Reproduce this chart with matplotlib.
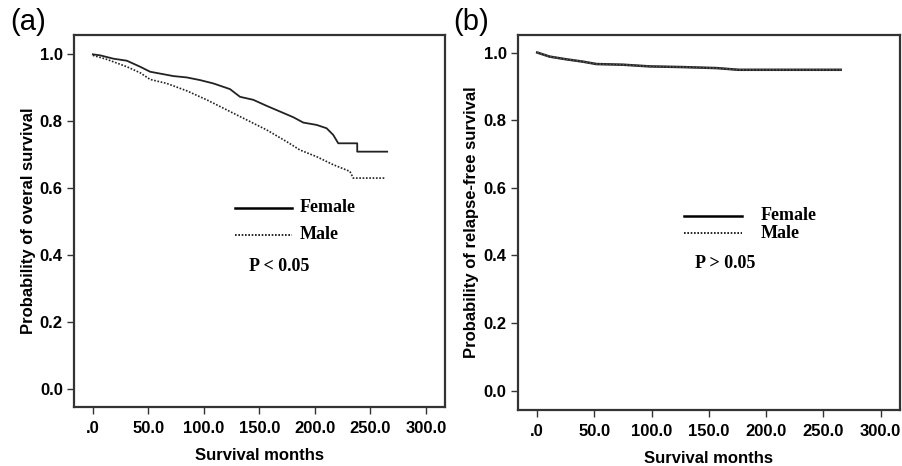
import matplotlib
matplotlib.use("Agg")
from matplotlib import pyplot as plt

# panel (a): overall survival
os_female_months = [0, 6.6, 18.6, 30.6, 42.6, 51.6, 72.6, 84.6, 96.6, 108.6, 123.6, 132.6,
                    144.6, 156.6, 168.6, 180.6, 189.6, 201.6, 210.6, 216.6, 221.1, 238.2, 238.2, 265.2]
os_female_prob = [1.0, 0.997, 0.987, 0.981, 0.963, 0.948, 0.935, 0.931, 0.923, 0.913, 0.896, 0.873,
                  0.864, 0.846, 0.829, 0.812, 0.796, 0.789, 0.779, 0.759, 0.734, 0.734, 0.709, 0.709]
os_male_months = [0, 12.6, 30.6, 42.6, 51.6, 66.6, 84.6, 102.6, 120.6, 138.6, 156.6, 174.6,
                  186.6, 201.6, 216.6, 231.6, 234.6, 263.1]
os_male_prob = [0.997, 0.985, 0.963, 0.945, 0.925, 0.913, 0.891, 0.864, 0.834, 0.804, 0.774, 0.739,
                0.714, 0.694, 0.670, 0.650, 0.630, 0.630]

# panel (b): relapse-free survival
rfs_female_months = [0, 10.8, 25.4, 40.0, 51.7, 75.0, 98.4, 127.6, 156.9, 175.8, 265.0]
rfs_female_prob = [1.0, 0.988, 0.980, 0.973, 0.966, 0.964, 0.959, 0.957, 0.954, 0.949, 0.949]
rfs_male_months = [0, 10.8, 25.4, 40.0, 51.7, 75.0, 98.4, 127.6, 156.9, 175.8, 265.0]
rfs_male_prob = [1.0, 0.988, 0.980, 0.973, 0.966, 0.964, 0.959, 0.957, 0.954, 0.949, 0.949]

x_ticks = [0, 50, 100, 150, 200, 250, 300]
x_tick_labels = [".0", "50.0", "100.0", "150.0", "200.0", "250.0", "300.0"]
y_ticks = [0.0, 0.2, 0.4, 0.6, 0.8, 1.0]
y_tick_labels = ["0.0", "0.2", "0.4", "0.6", "0.8", "1.0"]

sans = ["Liberation Sans", "DejaVu Sans"]
serif = ["Liberation Serif", "DejaVu Serif"]

fig = plt.figure(figsize=(9.02, 4.66), dpi=100)
ax_a = fig.add_axes([0.082, 0.127, 0.411, 0.798])
ax_b = fig.add_axes([0.574, 0.120, 0.424, 0.805])


def setup(ax, ylabel, ylim):
    ax.set_xlim(-17, 317)
    ax.set_ylim(*ylim)
    ax.set_xticks(x_ticks)
    ax.set_xticklabels(x_tick_labels, fontfamily=sans, fontweight="bold", fontsize=12)
    ax.set_yticks(y_ticks)
    ax.set_yticklabels(y_tick_labels, fontfamily=sans, fontweight="bold", fontsize=12)
    ax.tick_params(direction="out", length=5, width=1, color="#333333", pad=3)
    ax.tick_params(axis="x", pad=5)
    for s in ax.spines.values():
        s.set_linewidth(1.6)
        s.set_color("#333333")
    ax.set_xlabel("Survival months", fontfamily=sans, fontweight="bold", fontsize=12, labelpad=9)
    ax.set_ylabel(ylabel, fontfamily=sans, fontweight="bold", fontsize=12, labelpad=3)


def legend(ax, x0, x1, xt, yf, ym, xp, yp, ptext):
    ax.plot([x0, x1], [yf, yf], color="black", lw=1.8)
    ax.plot([x0, x1], [ym, ym], color="black", lw=1.2, ls=(0, (1, 1)))
    ax.text(xt, yf, "Female", fontfamily=serif, fontweight="bold", fontsize=13, va="center")
    ax.text(xt, ym, "Male", fontfamily=serif, fontweight="bold", fontsize=13, va="center")
    ax.text(xp, yp, ptext, fontfamily=serif, fontweight="bold", fontsize=13, va="center")


# (a)
ax_a.plot(os_female_months, os_female_prob, color="#222222", lw=1.3)
ax_a.plot(os_male_months, os_male_prob, color="#222222", lw=1.2, ls=(0, (1, 1)))
setup(ax_a, "Probability of overal survival", (-0.054, 1.058))
legend(ax_a, 128, 179, 186, 0.541, 0.461, 141, 0.366, "P < 0.05")
fig.text(0.011, 0.952, "(a)", fontfamily=sans, fontsize=21, va="center")

# (b)
ax_b.plot(rfs_female_months, rfs_female_prob, color="#222222", lw=1.8)
ax_b.plot(rfs_male_months, rfs_male_prob, color="#555555", lw=1.2, ls=(0, (1, 1)))
setup(ax_b, "Probability of relapse-free survival", (-0.057, 1.052))
legend(ax_b, 128, 179, 195, 0.517, 0.466, 138, 0.377, "P > 0.05")
fig.text(0.503, 0.952, "(b)", fontfamily=sans, fontsize=21, va="center")

fig.savefig("out.png", dpi=100)
